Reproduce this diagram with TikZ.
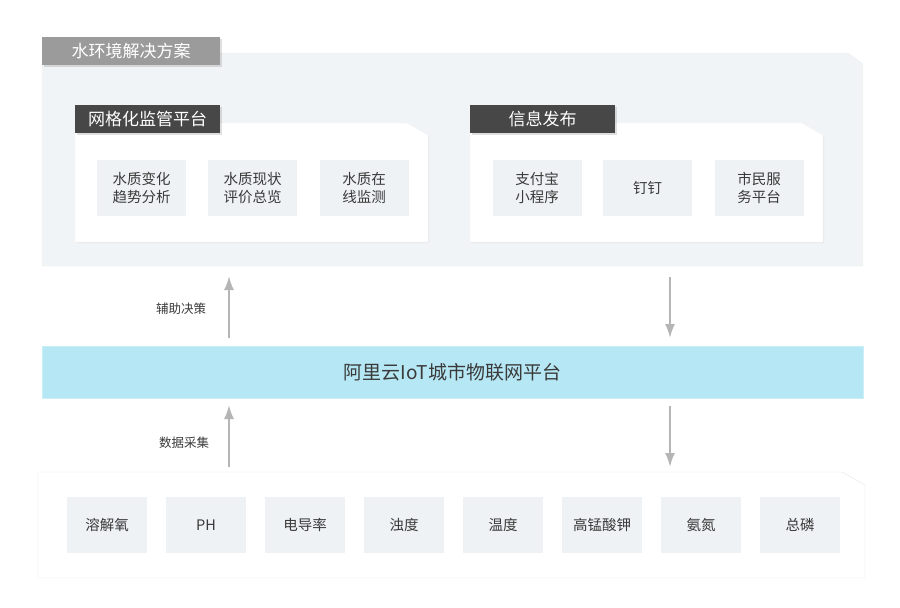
\documentclass[tikz,border=0pt]{standalone}
\usepackage{fontspec}
\setmainfont{Noto Sans CJK SC}
\usepackage{xcolor}
\usetikzlibrary{calc,shapes,positioning,arrows,arrows.meta,shadows}
\definecolor{PanelBg}{HTML}{F1F4F6}
\definecolor{CellBg}{HTML}{EEF2F4}
\definecolor{TabGray}{HTML}{9B9B9B}
\definecolor{TabDark}{HTML}{474747}
\definecolor{BarBlue}{HTML}{B6E7F4}
\definecolor{ArrowGray}{HTML}{B5B5B5}
\definecolor{InkGray}{HTML}{3A3A3A}
\tikzset{Cell/.style={fill=CellBg,minimum width=89pt,minimum height=56pt,inner sep=0pt,align=center,text=InkGray,font=\fontsize{14.5}{18}\selectfont},
         Sensor/.style={Cell,minimum width=80pt},
         Tab/.style={fill=#1,text=white,minimum height=28pt,inner sep=0pt,font=\fontsize{17}{19}\selectfont,drop shadow={shadow xshift=1.5pt,shadow yshift=-1.5pt,opacity=0.25}},
         Flow/.style={draw=ArrowGray,line width=2pt,-{Latex[length=14pt,width=10pt]}},
         Note/.style={text=InkGray,font=\fontsize{12.5}{15}\selectfont}}

\begin{document}
\begin{tikzpicture}[x=1pt,y=-1pt]
            \useasboundingbox (0,0) rectangle (900,608);
            \filldraw[fill=PanelBg,draw=black!7] (42,53) -- (848,53) -- (863,64) -- (863,266) -- (42,266) -- cycle;
            \filldraw[fill=white,draw=black!5,drop shadow={shadow xshift=1pt,shadow yshift=-1pt,opacity=0.08}] (75,123) -- (407,123) -- (428,135) -- (428,242) -- (75,242) -- cycle;
            \filldraw[fill=white,draw=black!5,drop shadow={shadow xshift=1pt,shadow yshift=-1pt,opacity=0.08}] (470,123) -- (802,123) -- (823,135) -- (823,242) -- (470,242) -- cycle;
            \filldraw[fill=white,draw=black!10] (38,472) -- (842,472) -- (865,485) -- (865,578) -- (38,578) -- cycle;
            \node[Tab=TabGray,minimum width=178pt] (plan) at (131,51) {水环境解决方案};
            \node[Tab=TabDark,minimum width=145pt] (grid) at (147.5,119) {网格化监管平台};
            \node[Tab=TabDark,minimum width=145pt] (info) at (542.5,119) {信息发布};
            \node[Cell] (m1) at (141.5,188) {水质变化\\趋势分析};
            \node[Cell] (m2) at (252.5,188) {水质现状\\评价总览};
            \node[Cell] (m3) at (364,188) {水质在\\线监测};
            \node[Cell] (p1) at (537,188) {支付宝\\小程序};
            \node[Cell] (p2) at (647.5,188) {钉钉};
            \node[Cell] (p3) at (759,188) {市民服\\务平台};
            \node[fill=BarBlue,draw=BarBlue!70!white,minimum width=821pt,minimum height=52pt,inner sep=0pt,text=InkGray,font=\fontsize{19}{22}\selectfont] (bar) at (452.5,372) {阿里云IoT城市物联网平台};
            \node[Sensor] (s1) at (107,525) {溶解氧};
            \node[Sensor] (s2) at (206,525) {PH};
            \node[Sensor] (s3) at (305,525) {电导率};
            \node[Sensor] (s4) at (404,525) {浊度};
            \node[Sensor] (s5) at (503,525) {温度};
            \node[Sensor] (s6) at (602,525) {高锰酸钾};
            \node[Sensor] (s7) at (701,525) {氨氮};
            \node[Sensor] (s8) at (800,525) {总磷};
            \coordinate (u1) at (229,338);
            \coordinate (u2) at (229,276);
            \coordinate (u3) at (229,467);
            \coordinate (u4) at (229,405);
            \coordinate (d1) at (670,277);
            \coordinate (d2) at (670,338);
            \coordinate (d3) at (670,406);
            \coordinate (d4) at (670,467);
            \draw[Flow] (u1) -- (u2);
            \draw[Flow] (u3) -- (u4);
            \draw[Flow] (d1) -- (d2);
            \draw[Flow] (d3) -- (d4);
            \node[Note] (help) at (181,309) {辅助决策};
            \node[Note] (collect) at (184,443) {数据采集};
        \end{tikzpicture}
\end{document}
